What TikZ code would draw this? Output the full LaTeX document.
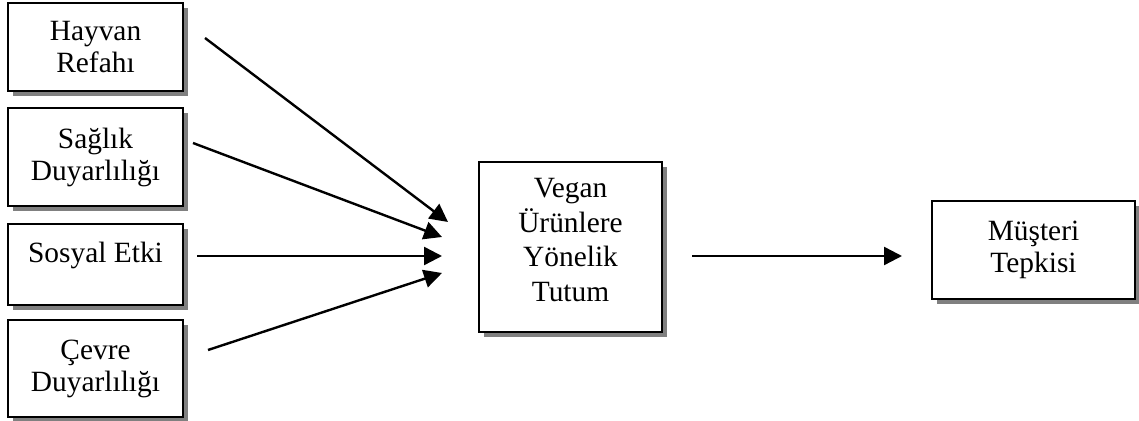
\documentclass[tikz,border=0pt]{standalone}
\usepackage{fontspec}
\setmainfont{Liberation Serif}
\usetikzlibrary{arrows.meta,shadows}
\definecolor{shadowgray}{HTML}{808080}
\begin{document}
\begin{tikzpicture}[x=0.5pt,y=-0.5pt,
  box/.style={draw=black, line width=1pt, fill=white, rectangle, inner sep=0pt,
    align=center, font=\fontsize{14.7}{16}\selectfont,
    general shadow={fill=shadowgray, shadow xshift=2.6pt, shadow yshift=-2.4pt}},
  arr/.style={line width=1.2pt, -{Triangle[length=9pt,width=9pt]}}]
\useasboundingbox (0,0) rectangle (1139,421);

% factor boxes on the left
\node[box, minimum width=87.5pt, minimum height=44pt] (hay) at (95.5,47) {Hayvan\\Refahı};
\node[box, minimum width=87.5pt, minimum height=49pt] (sag) at (95.5,157) {Sağlık\\Duyarlılığı};
\node[box, minimum width=87.5pt, minimum height=40.5pt, text depth=12.5pt] (sos) at (95.5,264.5) {Sosyal Etki};
\node[box, minimum width=87.5pt, minimum height=48.5pt] (cev) at (95.5,368.5) {Çevre\\Duyarlılığı};

% attitude and response
\node[box, minimum width=91.5pt, minimum height=85pt, text depth=7pt,
  font=\fontsize{14.7}{17.3}\selectfont] (veg) at (570.5,247) {Vegan\\Ürünlere\\Yönelik\\Tutum};
\node[box, minimum width=101.5pt, minimum height=49pt] (mus) at (1033.5,250) {Müşteri\\Tepkisi};

% connector end points
\coordinate (a1) at (205,38);   \coordinate (b1) at (448,222);
\coordinate (a2) at (193,143);  \coordinate (b2) at (442,237);
\coordinate (a3) at (197,256);  \coordinate (b3) at (442,256);
\coordinate (a4) at (208,350);  \coordinate (b4) at (442,273);
\coordinate (a5) at (692,256);  \coordinate (b5) at (902,256);

\draw[arr] (a1) -- (b1);
\draw[arr] (a2) -- (b2);
\draw[arr] (a3) -- (b3);
\draw[arr] (a4) -- (b4);
\draw[arr] (a5) -- (b5);
\end{tikzpicture}
\end{document}
